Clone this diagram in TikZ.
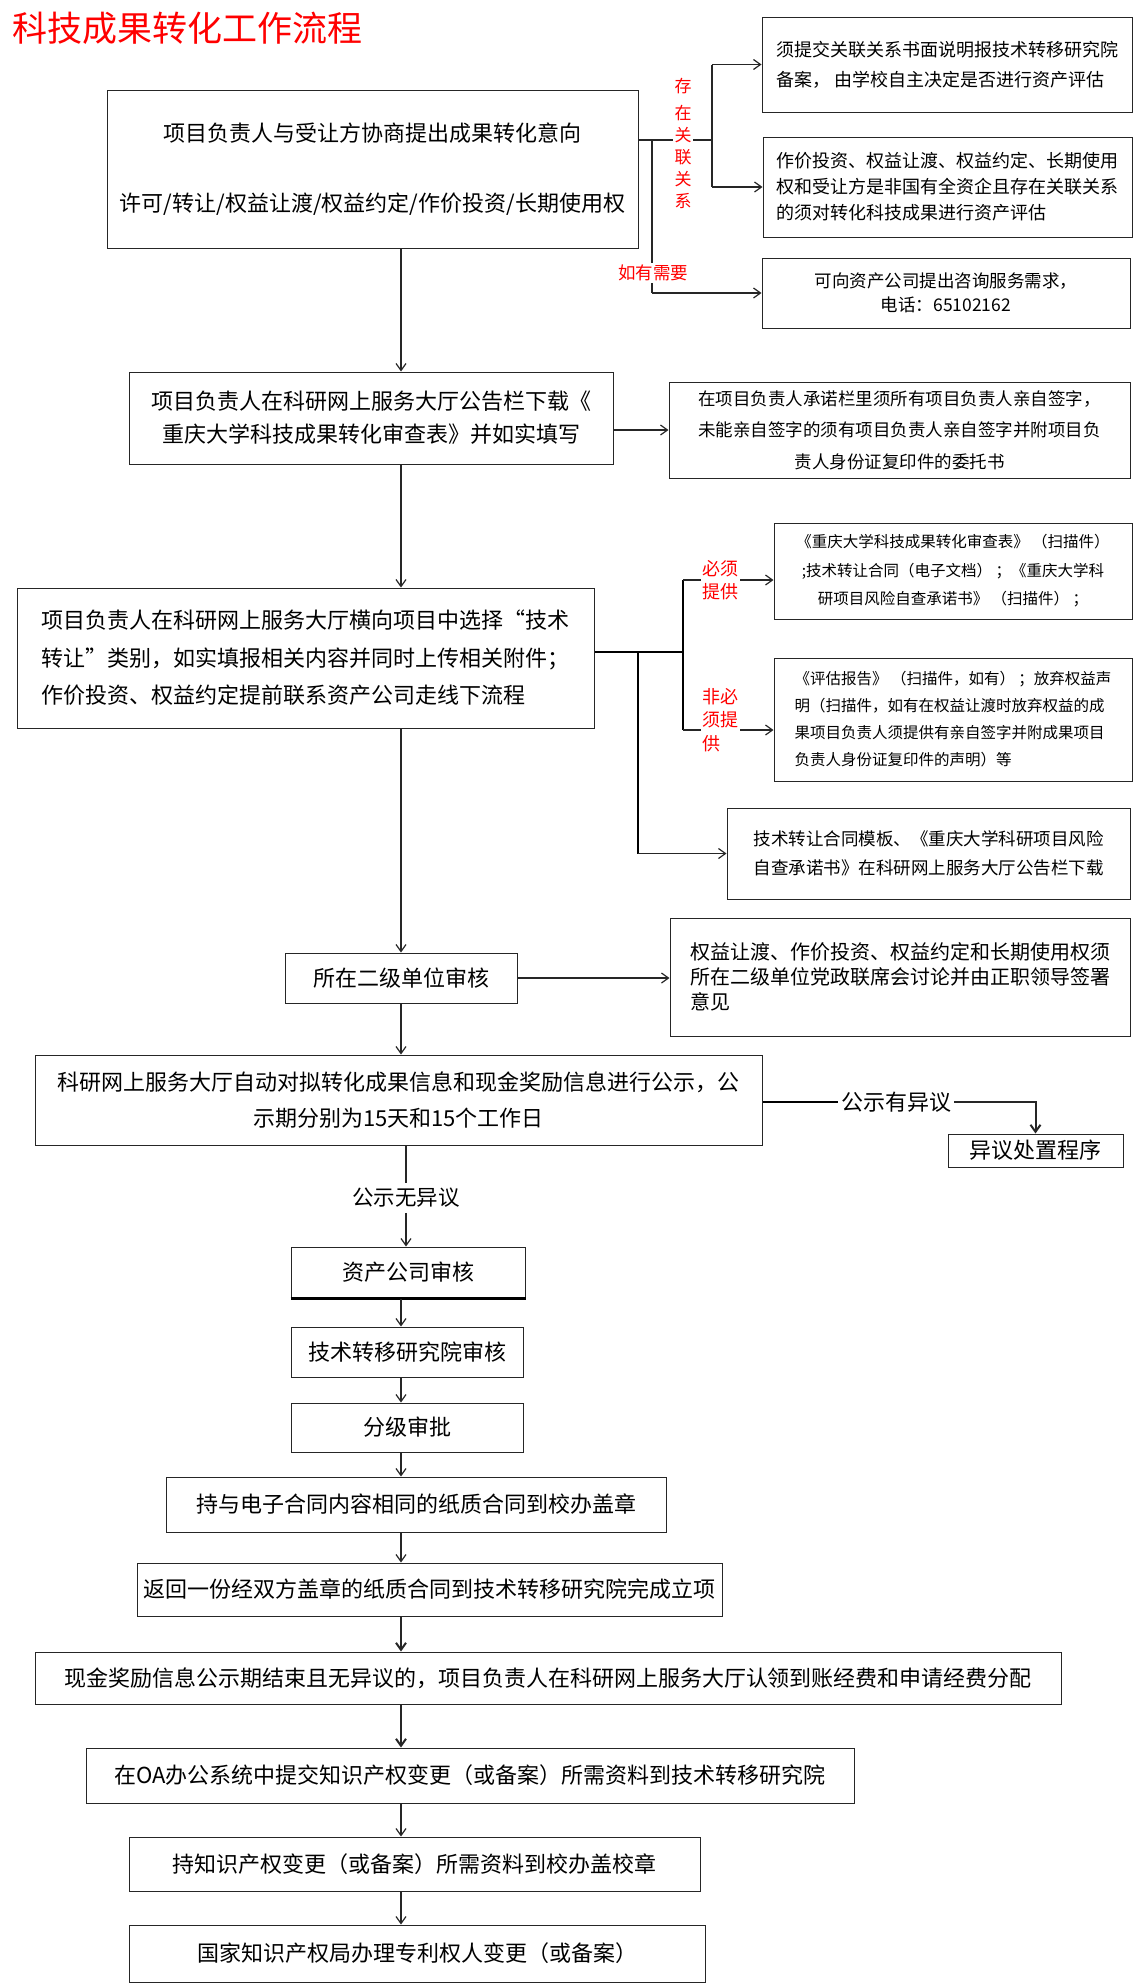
\documentclass[tikz,border=0pt]{standalone}
\usepackage{fontspec}
\setmainfont{Noto Sans CJK SC}
\usetikzlibrary{arrows.meta}

\begin{document}
\begin{tikzpicture}[x=1pt, y=-1pt]
%------------------------------------------------------------------------------------------------
% Styles
    \tikzset{procbox/.style={draw=black!85, line width=1pt, inner sep=0pt, align=center},
        notebox/.style={procbox, align=left},
        redlbl/.style={text=red, fill=white, inner sep=1.5pt, align=center},
        flow/.style={-{Straight Barb[length=7pt, width=10pt]}, line width=1.2pt, black!85},
        fs/.style 2 args={font=\fontsize{#1}{#2}\selectfont}
    }
    \useasboundingbox (0,0) rectangle (1134,1984);
    \node [text=red, fs={35}{40}, anchor=west, inner sep=0pt] (title) at (12,28) {科技成果转化工作流程};
%------------------------------------------------------------------------------------------------
% main column
    \node [procbox, minimum width=531pt, minimum height=158pt, fs={22}{70}] (A) at (372.5,169)
        {项目负责人与受让方协商提出成果转化意向\\许可/转让/权益让渡/权益约定/作价投资/长期使用权};
    \node [procbox, minimum width=484pt, minimum height=92pt, fs={22}{33}] (D) at (371,418)
        {项目负责人在科研网上服务大厅公告栏下载《\\重庆大学科技成果转化审查表》并如实填写};
    \node [notebox, minimum width=577pt, minimum height=140pt, fs={22}{37.5}] (F) at (305.5,658)
        {项目负责人在科研网上服务大厅横向项目中选择“技术\\转让”类别，如实填报相关内容并同时上传相关附件；\\作价投资、权益约定提前联系资产公司走线下流程};
    \node [procbox, minimum width=232pt, minimum height=50pt, fs={22}{26}] (J) at (401,978) {所在二级单位审核};
    \node [procbox, minimum width=727pt, minimum height=90pt, fs={22}{36}] (L) at (398.5,1100)
        {科研网上服务大厅自动对拟转化成果信息和现金奖励信息进行公示，公\\示期分别为15天和15个工作日};
    \node [procbox, minimum width=234pt, minimum height=51pt, fs={22}{26}] (N) at (408,1272.5) {资产公司审核};
    \node [procbox, minimum width=232pt, minimum height=50pt, fs={22}{26}] (O) at (407,1352) {技术转移研究院审核};
    \node [procbox, minimum width=232pt, minimum height=49pt, fs={22}{26}] (P) at (407,1427.5) {分级审批};
    \node [procbox, minimum width=500pt, minimum height=55pt, fs={22}{26}] (Q) at (416,1504.5) {持与电子合同内容相同的纸质合同到校办盖章};
    \node [procbox, minimum width=585pt, minimum height=53pt, fs={22}{26}] (R) at (429.5,1589.5) {返回一份经双方盖章的纸质合同到技术转移研究院完成立项};
    \node [procbox, minimum width=1026pt, minimum height=52pt, fs={22}{26}] (S) at (548,1678) {现金奖励信息公示期结束且无异议的，项目负责人在科研网上服务大厅认领到账经费和申请经费分配};
    \node [procbox, minimum width=768pt, minimum height=55pt, fs={22}{26}] (T) at (470,1775.5) {在OA办公系统中提交知识产权变更（或备案）所需资料到技术转移研究院};
    \node [procbox, minimum width=571pt, minimum height=54pt, fs={22}{26}] (U) at (414.5,1864) {持知识产权变更（或备案）所需资料到校办盖校章};
    \node [procbox, minimum width=576pt, minimum height=57pt, fs={22}{26}] (V) at (417,1953.5) {国家知识产权局办理专利权人变更（或备案）};
    \draw [line width=2.5pt] (N.south west) -- (N.south east);
%------------------------------------------------------------------------------------------------
% side notes
    \node [notebox, minimum width=370pt, minimum height=95pt, fs={18}{30}] (B1) at (947,64.5)
        {须提交关联关系书面说明报技术转移研究院\\备案， 由学校自主决定是否进行资产评估};
    \node [notebox, minimum width=369pt, minimum height=100pt, fs={18}{26}] (B2) at (947.5,187)
        {作价投资、权益让渡、权益约定、长期使用\\权和受让方是非国有全资企且存在关联关系\\的须对转化科技成果进行资产评估};
    \node [procbox, minimum width=368pt, minimum height=70pt, fs={17.5}{24}] (C) at (946,293)
        {可向资产公司提出咨询服务需求，\\电话：65102162};
    \node [procbox, minimum width=461pt, minimum height=96pt, fs={17.5}{31.5}] (E) at (899.5,430)
        {在项目负责人承诺栏里须所有项目负责人亲自签字，\\未能亲自签字的须有项目负责人亲自签字并附项目负\\责人身份证复印件的委托书};
    \node [procbox, minimum width=358pt, minimum height=96pt, fs={15.5}{28.5}] (G) at (953,571)
        {《重庆大学科技成果转化审查表》 （扫描件）\\;技术转让合同（电子文档） ；《重庆大学科\\研项目风险自查承诺书》 （扫描件） ；};
    \node [notebox, minimum width=358pt, minimum height=123pt, fs={15.5}{27}] (H) at (953,719.5)
        {《评估报告》 （扫描件，如有） ；放弃权益声\\明（扫描件，如有在权益让渡时放弃权益的成\\果项目负责人须提供有亲自签字并附成果项目\\负责人身份证复印件的声明）等};
    \node [notebox, minimum width=403pt, minimum height=91pt, fs={17.5}{29}] (I) at (928.5,853.5)
        {技术转让合同模板、《重庆大学科研项目风险\\自查承诺书》在科研网上服务大厅公告栏下载};
    \node [notebox, minimum width=460pt, minimum height=118pt, fs={20}{25}] (K) at (900,977)
        {权益让渡、作价投资、权益约定和长期使用权须\\所在二级单位党政联席会讨论并由正职领导签署\\意见};
    \node [procbox, minimum width=175pt, minimum height=33pt, fs={22}{26}] (M) at (1035.5,1150.5) {异议处置程序};
%------------------------------------------------------------------------------------------------
% trunk arrows
    \coordinate (trunk) at (401,0);
    \foreach \from/\to in {A/D, D/F, F/J, J/L, N/O, O/P, P/Q, Q/R, T/U, U/V} {
        \draw [flow] (\from.south -| trunk) -- (\to.north -| trunk);
    }
    \foreach \from/\to in {R/S, S/T} {
        \draw [flow, line width=2pt] (\from.south -| trunk) -- (\to.north -| trunk);
    }
    \node [fs={21.5}{26}, inner xsep=2pt, inner ysep=5pt] (nolbl) at (406,1198) {公示无异议};
    \draw [line width=1.2pt, black!85] (L.south -| nolbl) -- (nolbl.north);
    \draw [flow] (nolbl.south) -- (N.north -| nolbl);
    \node [fs={22}{26}, inner xsep=3pt] (objlbl) at (896,1102) {公示有异议};
    \draw [line width=2.5pt] (L.east |- objlbl) -- (objlbl.west);
    \draw [flow, line width=2pt] (objlbl.east) -| (M.north);
%------------------------------------------------------------------------------------------------
% branches
    \coordinate (rel) at (712,140);
    \coordinate (need) at (652,140);
    \draw [line width=1.5pt, black!85] (A.east |- rel) -- (rel);
    \draw [line width=1.5pt, black!85] (rel |- B1.west) -- (rel |- B2.west);
    \draw [flow] (rel |- B1.west) -- (B1.west);
    \draw [flow] (rel |- B2.west) -- (B2.west);
    \draw [line width=1.5pt, black!85] (need) -- (need |- C.west);
    \draw [flow] (need |- C.west) -- (C.west);
    \draw [flow] (D.east |- E.west) -- (E.west);
    \draw [flow] (J.east) -- (K.west |- J.east);

    \coordinate (brk) at (683,652);
    \coordinate (must) at (683,580);
    \coordinate (opt) at (683,730);
    \coordinate (tpl) at (638,652);
    \draw [line width=2.5pt] (F.east |- brk) -- (brk);
    \draw [line width=1.5pt] (must) -- (opt);
    \draw [flow] (must) -- (must -| G.west);
    \draw [flow] (opt) -- (opt -| H.west);
    \draw [line width=1.8pt] (tpl) -- (tpl |- I.west);
    \draw [flow] (tpl |- I.west) -- (I.west);
%------------------------------------------------------------------------------------------------
% red labels on the lines
    \node [redlbl, fs={17}{22}] (rellbl) at (683,143) {存\\[5pt]在\\关\\联\\关\\系};
    \node [redlbl, fs={17.5}{22}] (needlbl) at (653,273) {如有需要};
    \node [redlbl, fs={18}{23}] (mustlbl) at (720,580) {必须\\提供};
    \node [redlbl, fs={18}{23.5}, align=left] (optlbl) at (720,720) {非必\\须提\\供};
\end{tikzpicture}
\end{document}
